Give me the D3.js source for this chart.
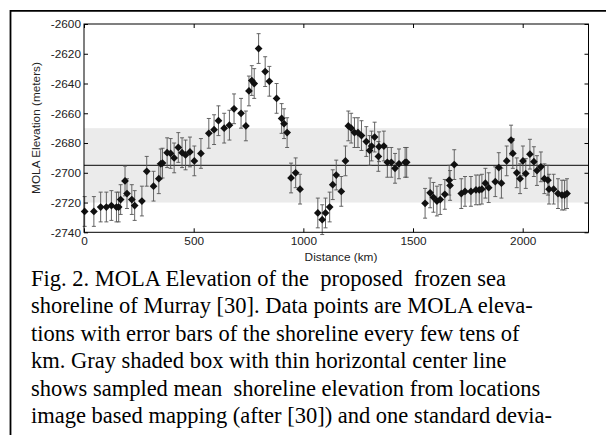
<!DOCTYPE html>
<html>
<head>
<meta charset="utf-8">
<script src="https://cdn.jsdelivr.net/npm/d3@7"></script>
<style>
  body { margin: 0; background: #fff; }
  svg { display: block; }
  .axis text { font-family: "Liberation Sans", Arial, sans-serif; font-size: 11.8px; fill: #222; }
  .axis line { stroke: #000; }
  .axis path { display: none; }
  .caption { font-family: "Liberation Serif", "Times New Roman", serif; font-size: 22.5px; fill: #000; white-space: pre; }
</style>
</head>
<body>
<svg id="chart" width="606" height="435"></svg>
<script>
// distance along the shoreline (km)
const distance = [3,45,76,102,125,148,158,167,187,196,
  218,231,264,286,317,341,350,358,379,395,
  411,430,447,463,483,503,533,569,593,613,
  639,663,684,716,738,752,765,776,796,826,
  845,878,901,912,926,944,965,985,1066,1086,
  1101,1120,1134,1150,1173,1192,1205,1218,1233,1249,
  1265,1287,1302,1311,1325,1342,1345,1367,1383,1401,
  1418,1436,1464,1471,1555,1578,1593,1609,1624,1645,
  1665,1669,1688,1720,1737,1764,1787,1802,1814,1830,
  1845,1875,1891,1903,1927,1947,1955,1973,1988,2001,
  2014,2033,2051,2065,2083,2099,2115,2120,2141,2161,
  2179,2191,2202];

// MOLA elevation (m)
const elevation = [-2726,-2726,-2723,-2723,-2722,-2723,-2723,-2718,-2705.5,-2714,
  -2718,-2722,-2719,-2699,-2709,-2704,-2694,-2693.5,-2686.5,-2687,
  -2690,-2683,-2686.5,-2688,-2686,-2692,-2687,-2673.5,-2671,-2665,
  -2670,-2668,-2657,-2660,-2668.5,-2645,-2638,-2640,-2616.5,-2632,
  -2638.5,-2650,-2663.5,-2667,-2673,-2703.5,-2700,-2711,-2727,-2731.5,
  -2727,-2723,-2708,-2701.5,-2712.5,-2692,-2668.5,-2670,-2673,-2673,
  -2675,-2679,-2685,-2682,-2676,-2689,-2682.5,-2682,-2693,-2693,
  -2697,-2694,-2693,-2693,-2720.5,-2713.5,-2716.5,-2719,-2718,-2714.5,
  -2705,-2708.5,-2694.5,-2714,-2712.5,-2712.5,-2711.5,-2711.5,-2711,-2707,
  -2710,-2706,-2696.5,-2707,-2692,-2678,-2687,-2700,-2704,-2692,
  -2700.5,-2687.5,-2692.5,-2698.5,-2696,-2704,-2705,-2711,-2711,-2714,
  -2715,-2715,-2714];

// error bar half-length (m)
const errorBar = [10,10,10,10,10,10,10,10,10,10,
  10,10,10,10,10,10,10,10,10,10,
  10,10,10,10,10,10,10,10,10,10,
  10,10,10,10,10,10,10,10,10,10,
  10,10,10,10,10,10,10,10,10,10,
  10,10,10,10,10,10,10,10,10,10,
  10,10,10,10,10,10,10,10,10,10,
  10,10,10,10,10,10,10,10,10,10,
  10,10,10,10,10,10,10,10,10,10,
  10,10,10,10,10,10,10,10,10,10,
  10,10,10,10,10,10,10,10,10,10,
  10,10,10];

// sampled mean shoreline elevation and one standard deviation
const meanElevation = -2695;
const stdElevation = 25;

const xTicks = [0, 500, 1000, 1500, 2000];
const yTicks = [-2740, -2720, -2700, -2680, -2660, -2640, -2620, -2600];

const captionLines = [
  "Fig. 2. MOLA Elevation of the  proposed  frozen sea",
  "shoreline of Murray [30]. Data points are MOLA eleva-",
  "tions with error bars of the shoreline every few tens of",
  "km. Gray shaded box with thin horizontal center line",
  "shows sampled mean  shoreline elevation from locations",
  "image based mapping (after [30]) and one standard devia-"
];

const data = distance.map(function (d, i) {
  return {x: d, y: elevation[i], e: errorBar[i]};
});

const svg = d3.select("#chart");

// outer figure border (top and left edges visible)
svg.append("line").attr("x1", 10.5).attr("x2", 606).attr("y1", 10.8).attr("y2", 10.8)
  .attr("stroke", "#000").attr("stroke-width", 1.8);
svg.append("line").attr("x1", 10.5).attr("x2", 10.5).attr("y1", 10).attr("y2", 435)
  .attr("stroke", "#000").attr("stroke-width", 1.8);

// plot box
let plot = {left: 84, right: 588.5, top: 24, bottom: 232.3};

const x = d3.scaleLinear().domain([0, 2300]).range([plot.left, plot.right]);
const y = d3.scaleLinear().domain([-2740, -2600]).range([plot.bottom, plot.top]);

// plain labels with ascii minus, no thousands separator
const plain = function (d) { return String(d); };

// shaded one-sigma box
svg.append("rect")
  .attr("x", x(0)).attr("width", x(2300) - x(0))
  .attr("y", y(meanElevation + stdElevation))
  .attr("height", y(meanElevation - stdElevation) - y(meanElevation + stdElevation))
  .attr("fill", "#ebebeb");

// center line
svg.append("line")
  .attr("x1", x(0)).attr("x2", x(2300))
  .attr("y1", y(meanElevation)).attr("y2", y(meanElevation))
  .attr("stroke", "#333").attr("stroke-width", 1.3);

// error bars
const bars = svg.append("g").attr("stroke", "#555").attr("stroke-width", 0.9);
bars.selectAll(".eb").data(data).enter().append("line")
  .attr("x1", d => x(d.x)).attr("x2", d => x(d.x))
  .attr("y1", d => y(d.y + d.e)).attr("y2", d => y(d.y - d.e));
bars.selectAll(".capTop").data(data).enter().append("line")
  .attr("x1", d => x(d.x) - 2).attr("x2", d => x(d.x) + 2)
  .attr("y1", d => y(d.y + d.e)).attr("y2", d => y(d.y + d.e));
bars.selectAll(".capBot").data(data).enter().append("line")
  .attr("x1", d => x(d.x) - 2).attr("x2", d => x(d.x) + 2)
  .attr("y1", d => y(d.y - d.e)).attr("y2", d => y(d.y - d.e));

// diamond markers
const diamond = d3.symbol().type(d3.symbolSquare).size(30);
svg.append("g").selectAll("path").data(data).enter().append("path")
  .attr("d", diamond)
  .attr("transform", d => "translate(" + x(d.x) + "," + y(d.y) + ") rotate(45)")
  .attr("fill", "#111");

// axes frame
svg.append("rect")
  .attr("x", plot.left).attr("y", plot.top)
  .attr("width", plot.right - plot.left).attr("height", plot.bottom - plot.top)
  .attr("fill", "none").attr("stroke", "#000").attr("stroke-width", 1);

svg.append("g").attr("class", "axis")
  .attr("transform", "translate(0," + plot.bottom + ")")
  .call(d3.axisBottom(x).tickValues(xTicks).tickSize(-4).tickPadding(4).tickFormat(plain));
svg.append("g").attr("class", "axis")
  .attr("transform", "translate(0," + plot.top + ")")
  .call(d3.axisTop(x).tickValues(xTicks).tickSize(-4).tickFormat(""));
svg.append("g").attr("class", "axis")
  .attr("transform", "translate(" + plot.left + ",0)")
  .call(d3.axisLeft(y).tickValues(yTicks).tickSize(-4).tickPadding(3).tickFormat(plain));
svg.append("g").attr("class", "axis")
  .attr("transform", "translate(" + plot.right + ",0)")
  .call(d3.axisRight(y).tickValues(yTicks).tickSize(-4).tickFormat(""));

// axis titles
svg.append("text")
  .attr("x", 341).attr("y", 261)
  .attr("text-anchor", "middle")
  .style("font-family", "'Liberation Sans', Arial, sans-serif")
  .style("font-size", "11.8px").style("fill", "#222")
  .text("Distance (km)");
svg.append("text")
  .attr("transform", "translate(40,128) rotate(-90)")
  .attr("text-anchor", "middle")
  .style("font-family", "'Liberation Sans', Arial, sans-serif")
  .style("font-size", "11.8px").style("fill", "#222")
  .text("MOLA Elevation (meters)");

// caption
svg.append("g").selectAll("text").data(captionLines).enter().append("text")
  .attr("class", "caption")
  .attr("x", 31)
  .attr("y", (d, i) => 286 + i * 27.4)
  .text(d => d);
</script>
</body>
</html>
